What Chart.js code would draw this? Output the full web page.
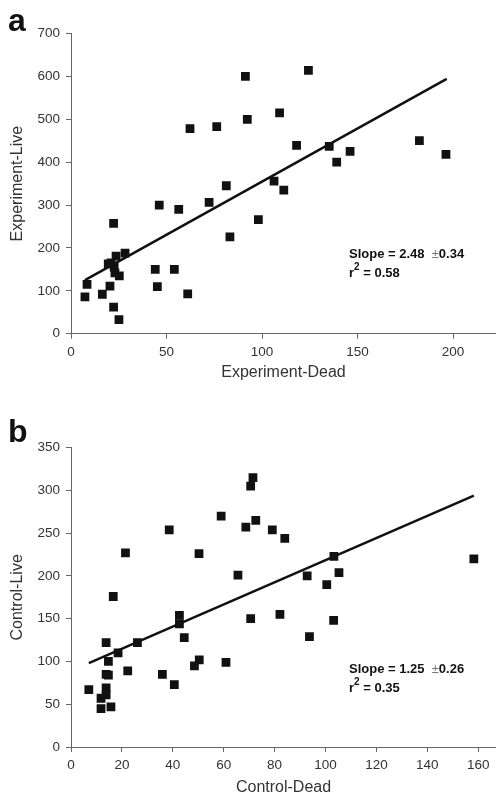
<!DOCTYPE html>
<html>
<head>
<meta charset="utf-8">
<script src="https://cdn.jsdelivr.net/npm/chart.js@4/dist/chart.umd.min.js"></script>
<style>
    body { margin: 0; background: #fff; }
    .panel { position: absolute; left: 0; }
</style>
</head>
<body>
<div class="panel" style="top:0"><canvas id="chartA" width="496" height="400"></canvas></div>
<div class="panel" style="top:400px"><canvas id="chartB" width="496" height="396"></canvas></div>
<script>
// panel a - experiment
var expDead = [62.3, 76.3, 91.3, 92.3, 124.3, 109.2, 118.1, 135.2, 139.1, 146.1, 182.4, 196.3, 81.3, 106.3, 111.4,
               46.2, 56.4, 72.3, 98.1, 83.2, 22.3, 23.6, 28.3, 19.5, 21, 22.6, 23, 25.3, 44.1, 54.1, 45.2, 61.1,
               8.4, 7.3, 16.4, 20.4, 22.3, 25.1];
var expLive = [478, 483, 600, 500, 614, 515, 439, 437, 400, 425, 450, 418, 345, 356, 335,
               300, 290, 306, 266, 226, 257, 181, 188, 163, 165, 155, 142, 135, 150, 150, 110, 93,
               115, 86, 92, 111, 62, 33];
var expFitX = [7.3, 196.7];
var expFitY = [125, 594];

// panel b - control
var ctrlDead = [71.5, 70.6, 72.6, 68.7, 59, 38.6, 79.1, 84, 21.4, 50.3, 65.6, 92.8, 100.5, 103.3, 105.3, 158.3,
                16.6, 42.6, 42.6, 44.5, 70.6, 82.1, 103.2, 93.7, 13.8, 26.1, 18.5, 14.7, 22.3, 13.8, 14.7,
                35.9, 40.6, 48.5, 50.4, 60.9, 7, 13.8, 13.8, 11.8, 11.8, 15.7];
var ctrlLive = [315, 305, 265, 257, 270, 254, 254, 244, 227, 226, 201, 200, 190, 223, 204, 220,
                176, 154, 144, 128, 150, 155, 148, 129, 122, 122, 110, 100, 89, 85, 84,
                85, 73, 95, 102, 99, 67, 69, 61, 57, 45, 47];
var ctrlFitX = [7, 158.3];
var ctrlFitY = [98, 294];

var FONT = "'Liberation Sans', Arial, sans-serif";
var AXIS = '#666';

function toPoints(xs, ys)
{
    var pts = [];
    for (var i = 0; i < xs.length; ++i)
    {
        pts.push({x: xs[i], y: ys[i]});
    }
    return pts;
}

// draws the panel letter and the slope / r2 note
var notesPlugin = {
    id: 'notes',
    afterDraw: function(chart, args, opts)
    {
        var ctx = chart.ctx;
        ctx.save();
        ctx.fillStyle = '#111';
        ctx.textBaseline = 'alphabetic';
        ctx.font = 'bold 32px ' + FONT;
        ctx.fillText(opts.letter, 8, opts.letterY);

        var x = 349;
        ctx.textBaseline = 'middle';
        ctx.font = 'bold 13px ' + FONT;
        var s = 'Slope = ' + opts.slope + '  ';
        ctx.fillText(s, x, opts.y);
        var w = ctx.measureText(s).width;
        ctx.font = '13px ' + FONT;
        ctx.fillStyle = '#777';
        ctx.fillText('\u00b1', x + w, opts.y);
        var w2 = ctx.measureText('\u00b1').width;
        ctx.fillStyle = '#111';
        ctx.font = 'bold 13px ' + FONT;
        ctx.fillText(opts.err, x + w + w2, opts.y);

        var y2 = opts.y + 19;
        ctx.fillText('r', x, y2);
        var wr = ctx.measureText('r').width;
        ctx.font = 'bold 10px ' + FONT;
        ctx.fillText('2', x + wr, y2 - 6);
        var ws = ctx.measureText('2').width;
        ctx.font = 'bold 13px ' + FONT;
        ctx.fillText(' = ' + opts.r2, x + wr + ws, y2);
        ctx.restore();
    }
};

function makeChart(id, xs, ys, fitX, fitY, cfg)
{
    return new Chart(document.getElementById(id).getContext('2d'), {
        type: 'scatter',
        data: {
            datasets: [
                {
                    data: toPoints(xs, ys),
                    pointStyle: 'rect',
                    pointRadius: 6.2,
                    backgroundColor: '#111',
                    borderWidth: 0
                },
                {
                    type: 'line',
                    data: toPoints(fitX, fitY),
                    borderColor: '#111',
                    borderWidth: 2.5,
                    pointRadius: 0,
                    fill: false
                }
            ]
        },
        options: {
            responsive: false,
            animation: false,
            layout: {autoPadding: false, padding: {top: cfg.top, right: 0, left: 0, bottom: 0}},
            plugins: {
                legend: {display: false},
                tooltip: {enabled: false},
                notes: cfg.notes
            },
            scales: {
                x: {
                    type: 'linear',
                    min: 0,
                    max: cfg.xMax,
                    afterFit: function(scale) { scale.height = cfg.xHeight; },
                    border: {color: AXIS, width: 1},
                    grid: {drawOnChartArea: false, drawTicks: true, tickLength: 5, color: AXIS},
                    ticks: {stepSize: cfg.xStep, includeBounds: false, padding: 5, color: '#333', font: {family: FONT, size: 13.5}},
                    title: {display: true, text: cfg.xTitle, color: '#333', font: {family: FONT, size: 16, lineHeight: 1},
                            padding: {top: 0, bottom: cfg.xTitlePad}}
                },
                y: {
                    min: 0,
                    max: cfg.yMax,
                    afterFit: function(scale) { scale.width = 71; },
                    border: {color: AXIS, width: 1},
                    grid: {drawOnChartArea: false, drawTicks: true, tickLength: 5, color: AXIS},
                    ticks: {stepSize: cfg.yStep, padding: 6, color: '#333', font: {family: FONT, size: 13.5}},
                    title: {display: true, text: cfg.yTitle, color: '#333', font: {family: FONT, size: 16, lineHeight: 1},
                            padding: {top: 9.5, bottom: 0}}
                }
            }
        },
        plugins: [notesPlugin]
    });
}

makeChart('chartA', expDead, expLive, expFitX, expFitY, {
    top: 33.5, xHeight: 66.3, xMax: 222.5, xStep: 50, yMax: 700, yStep: 100,
    xTitle: 'Experiment-Dead', yTitle: 'Experiment-Live', xTitlePad: 19.5,
    notes: {letter: 'a', letterY: 31, slope: '2.48', err: '0.34', r2: '0.58', y: 254}
});

makeChart('chartB', ctrlDead, ctrlLive, ctrlFitX, ctrlFitY, {
    top: 47.7, xHeight: 49, xMax: 167, xStep: 20, yMax: 350, yStep: 50,
    xTitle: 'Control-Dead', yTitle: 'Control-Live', xTitlePad: 0,
    notes: {letter: 'b', letterY: 42, slope: '1.25', err: '0.26', r2: '0.35', y: 269}
});
</script>
</body>
</html>
